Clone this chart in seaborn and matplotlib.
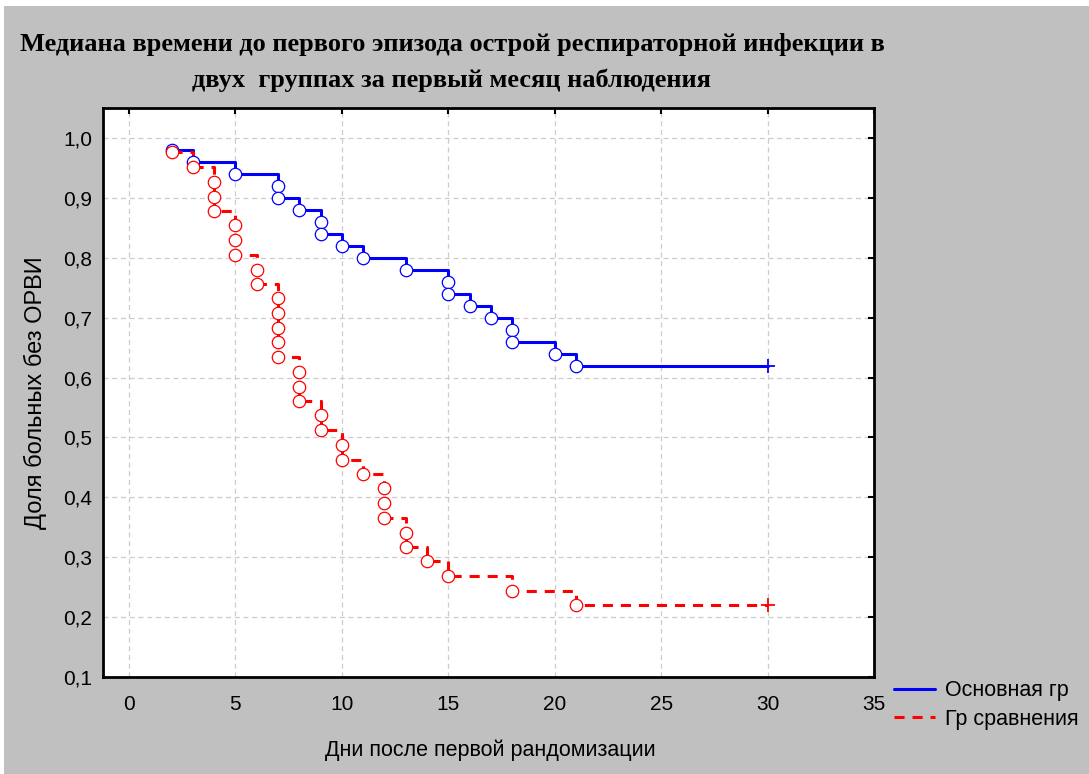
import numpy as np
import pandas as pd
import matplotlib
matplotlib.use("Agg")
import matplotlib.pyplot as plt
from matplotlib.lines import Line2D
from matplotlib.patches import Rectangle
import seaborn as sns

# ---- data ----
title_lines = ["Медиана времени до первого эпизода острой респираторной инфекции в",
               "двух  группах за первый месяц наблюдения"]
series_names = ["Основная гр", "Гр сравнения"]

# Main group: step curve (time, survival after step)
main_step_t = [2, 3, 5, 7, 8, 9, 10, 11, 13, 15, 16, 17, 18, 20, 21, 30]
main_step_s = [0.98, 0.96, 0.94, 0.90, 0.88, 0.84, 0.82, 0.80, 0.78, 0.74, 0.72, 0.70, 0.66, 0.64, 0.62, 0.62]
# Main group: individual event markers
main_evt_t = [2, 3, 5, 7, 7, 8, 9, 9, 10, 11, 13, 15, 15, 16, 17, 18, 18, 20, 21]
main_evt_s = [0.98, 0.96, 0.94, 0.92, 0.90, 0.88, 0.86, 0.84, 0.82, 0.80, 0.78, 0.76, 0.74, 0.72, 0.70, 0.68, 0.66, 0.64, 0.62]
main_cens_t = [30]
main_cens_s = [0.62]

# Comparison group
comp_step_t = [2, 3, 4, 5, 6, 7, 8, 9, 10, 11, 12, 13, 14, 15, 18, 21, 30]
comp_step_s = [0.976, 0.951, 0.878, 0.805, 0.756, 0.634, 0.561, 0.512, 0.463, 0.439, 0.366, 0.317, 0.293, 0.268, 0.244, 0.220, 0.220]
comp_evt_t = [2, 3, 4, 4, 4, 5, 5, 5, 6, 6, 7, 7, 7, 7, 7, 8, 8, 8, 9, 9, 10, 10, 11,
              12, 12, 12, 13, 13, 14, 15, 18, 21]
comp_evt_s = [0.976, 0.951, 0.927, 0.902, 0.878, 0.854, 0.829, 0.805, 0.780, 0.756,
              0.732, 0.707, 0.683, 0.659, 0.634, 0.610, 0.585, 0.561, 0.537, 0.512,
              0.488, 0.463, 0.439, 0.415, 0.390, 0.366, 0.341, 0.317, 0.293, 0.268,
              0.244, 0.220]
comp_cens_t = [30]
comp_cens_s = [0.220]

x_ticks = [0, 5, 10, 15, 20, 25, 30, 35]
y_ticks = [0.1, 0.2, 0.3, 0.4, 0.5, 0.6, 0.7, 0.8, 0.9, 1.0]
y_tick_labels = ["0,1", "0,2", "0,3", "0,4", "0,5", "0,6", "0,7", "0,8", "0,9", "1,0"]
x_label = "Дни после первой рандомизации"
y_label = "Доля больных без ОРВИ"

# ---- figure ----
sns.set_style("white")
plt.rcParams['font.family'] = ['Liberation Sans', 'DejaVu Sans']
plt.rcParams['text.color'] = 'black'
plt.rcParams['axes.labelcolor'] = 'black'
plt.rcParams['xtick.color'] = 'black'
plt.rcParams['ytick.color'] = 'black'

W, H = 1089, 774
fig = plt.figure(figsize=(W / 100, H / 100), dpi=100)
fig.patch.set_facecolor("white")
fig.patches.append(Rectangle((4 / W, 0), 1, 1 - 6 / H, transform=fig.transFigure,
                             facecolor="#c0c0c0", edgecolor="none", zorder=-10))

ax = fig.add_axes([103 / W, 1 - 677 / H, (874 - 103) / W, (677 - 108) / H])
ax.set_facecolor("white")

blue = "#0000ff"
red = "#ff0000"

main_step = pd.DataFrame({"t": main_step_t, "s": main_step_s})
comp_step = pd.DataFrame({"t": comp_step_t, "s": comp_step_s})
main_evt = pd.DataFrame({"t": main_evt_t, "s": main_evt_s})
comp_evt = pd.DataFrame({"t": comp_evt_t, "s": comp_evt_s})

sns.lineplot(data=main_step, x="t", y="s", ax=ax, estimator=None, sort=False,
             drawstyle="steps-post", color=blue, linewidth=2.2, zorder=3)
sns.lineplot(data=comp_step, x="t", y="s", ax=ax, estimator=None, sort=False,
             drawstyle="steps-post", color=red, linewidth=2.2, zorder=3)
ax.lines[-1].set_dashes((3.3, 2.6))

sns.scatterplot(data=main_evt, x="t", y="s", ax=ax, s=80, facecolor="white",
                edgecolor=blue, linewidth=0.9, zorder=4)
sns.scatterplot(data=comp_evt, x="t", y="s", ax=ax, s=80, facecolor="white",
                edgecolor=red, linewidth=0.9, zorder=5)
ax.plot(main_cens_t, main_cens_s, marker="+", markersize=10, color=blue, mew=1.3,
        linestyle="none", zorder=6)
ax.plot(comp_cens_t, comp_cens_s, marker="+", markersize=10, color=red, mew=1.3,
        linestyle="none", zorder=6)

ax.set_xlim(-1.22, 35)
ax.set_ylim(0.1, 1.05)
ax.set_xticks(x_ticks)
ax.set_xticklabels([str(v) for v in x_ticks])
ax.set_yticks(y_ticks)
ax.set_yticklabels(y_tick_labels)
ax.tick_params(direction="in", length=4, width=1.5, top=True, right=True,
               labelsize=15, colors="black")
ax.tick_params(axis="x", pad=13)
ax.tick_params(axis="y", pad=8)
ax.grid(True, color="#cccccc", linestyle=(0, (4, 3)), linewidth=0.9)
for sp in ax.spines.values():
    sp.set_visible(True)
    sp.set_color("black")
    sp.set_linewidth(2)

ax.set_xlabel("")
ax.set_ylabel("")
fig.text(490 / W, 1 - 750 / H, x_label, ha="center", va="center", fontsize=15.5,
         color="black")
fig.text(35 / W, 1 - 393 / H, y_label, ha="center", va="center", rotation=90,
         fontsize=17, color="black")

fig.text(452 / W, 1 - 45 / H, title_lines[0], ha="center", va="center", color="black",
         fontsize=19, fontweight="bold", family="Liberation Serif")
fig.text(452 / W, 1 - 80 / H, title_lines[1], ha="center", va="center", color="black",
         fontsize=19, fontweight="bold", family="Liberation Serif")

handles = [Line2D([], [], color=blue, linewidth=2.2),
           Line2D([], [], color=red, linewidth=2.2, dashes=(3.3, 2.6))]
leg = fig.legend(handles, series_names, loc="center left",
                 bbox_to_anchor=(894 / W, 1 - 705 / H), frameon=False, borderpad=0,
                 borderaxespad=0, fontsize=15.5, handlelength=1.9, handletextpad=0.45,
                 labelspacing=0.35, labelcolor="black")

fig.savefig("out.png", dpi=100, facecolor=fig.get_facecolor())
